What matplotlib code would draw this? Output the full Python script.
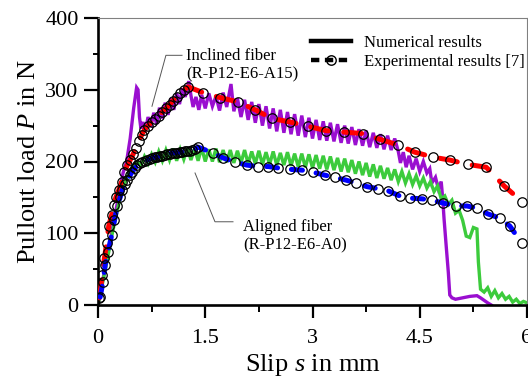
import matplotlib
matplotlib.use("Agg")
import matplotlib.pyplot as plt
from matplotlib.lines import Line2D
from matplotlib.ticker import MultipleLocator

# ---------------- data ----------------
# Numerical: inclined fiber (R-P12-E6-A15)
num_incl_s = [0, 0.1, 0.2, 0.3, 0.35, 0.4, 0.45, 0.5, 0.54, 0.56, 0.58, 0.6, 0.63, 0.66, 0.7, 0.74,
              0.78, 0.82, 0.86, 0.9, 0.94, 0.98, 1.02, 1.06, 1.1, 1.14, 1.18, 1.22, 1.27, 1.3, 1.33,
              1.37, 1.41, 1.45, 1.5, 1.55, 1.6, 1.65, 1.7, 1.75, 1.8, 1.86, 1.9, 1.95, 2.0, 2.05,
              2.1, 2.15, 2.2, 2.25, 2.3, 2.35, 2.4, 2.45, 2.5, 2.55, 2.6, 2.65, 2.7, 2.75, 2.8, 2.85,
              2.9, 2.95, 3.0, 3.05, 3.1, 3.15, 3.2, 3.25, 3.3, 3.35, 3.4, 3.45, 3.5, 3.55, 3.6, 3.65,
              3.7, 3.75, 3.8, 3.85, 3.9, 3.95, 4.0, 4.05, 4.1, 4.15, 4.2, 4.23, 4.27, 4.31, 4.35, 4.4,
              4.45, 4.5, 4.55, 4.6, 4.64, 4.67, 4.72, 4.76, 4.8, 4.82, 4.84, 4.87, 4.9, 4.92, 4.95,
              5.0, 5.1, 5.2, 5.3, 5.35, 5.45, 5.5]
num_incl_p = [0, 52, 105, 158, 184, 200, 232, 275, 303, 300, 262, 246, 255, 242, 262, 248,
              268, 252, 275, 260, 282, 265, 288, 272, 295, 280, 302, 290, 312, 292, 276,
              290, 272, 293, 274, 295, 277, 291, 271, 296, 276, 308, 270, 288, 262, 286,
              258, 283, 254, 280, 250, 277, 246, 274, 242, 272, 240, 269, 238, 266, 236, 264,
              234, 261, 232, 258, 230, 256, 229, 254, 228, 252, 226, 250, 225, 248, 223, 245,
              222, 243, 220, 240, 219, 238, 217, 236, 216, 232, 214, 198, 213, 192, 208, 189,
              204, 186, 200, 184, 190, 170, 178, 162, 172, 150, 120, 82, 45, 14, 10,
              8, 10, 12, 13, 10, 3, 0]

# Numerical: aligned fiber (R-P12-E6-A0)
num_align_s = [0, 0.1, 0.2, 0.3, 0.4, 0.5, 0.55, 0.6, 0.65, 0.7, 0.75, 0.8, 0.85, 0.9, 0.95, 1.0,
               1.05, 1.1, 1.15, 1.2, 1.25, 1.3, 1.35, 1.4, 1.45, 1.5, 1.55, 1.6, 1.65, 1.7, 1.75,
               1.8, 1.85, 1.9, 1.95, 2.0, 2.05, 2.1, 2.15, 2.2, 2.25, 2.3, 2.35, 2.4, 2.45, 2.5,
               2.55, 2.6, 2.65, 2.7, 2.75, 2.8, 2.85, 2.9, 2.95, 3.0, 3.05, 3.1, 3.15, 3.2, 3.25,
               3.3, 3.35, 3.4, 3.45, 3.5, 3.55, 3.6, 3.65, 3.7, 3.75, 3.8, 3.85, 3.9, 3.95, 4.0,
               4.05, 4.1, 4.15, 4.2, 4.25, 4.3, 4.35, 4.4, 4.45, 4.5, 4.55, 4.6, 4.65, 4.7, 4.75,
               4.8, 4.85, 4.9, 4.95, 5.0, 5.05, 5.1, 5.15, 5.2, 5.25, 5.3, 5.32, 5.35, 5.4, 5.45,
               5.5, 5.55, 5.6, 5.65, 5.7, 5.75, 5.8, 5.85, 5.9, 5.95, 6.0]
num_align_p = [0, 48, 100, 145, 178, 195, 200, 194, 207, 197, 210, 199, 214, 201, 216, 202,
               218, 201, 217, 203, 219, 202, 218, 201, 219, 200, 217, 200, 218, 199, 216,
               199, 216, 198, 215, 198, 216, 197, 214, 197, 215, 196, 213, 196, 214, 195,
               212, 195, 213, 194, 211, 193, 211, 192, 210, 191, 209, 190, 208, 189, 207,
               188, 205, 186, 204, 185, 202, 183, 200, 181, 198, 179, 196, 177, 194, 176,
               191, 174, 189, 172, 186, 170, 183, 168, 180, 166, 177, 163, 172, 158, 166,
               148, 152, 140, 146, 128, 132, 118, 96, 94, 108, 106, 60, 22, 18, 24,
               12, 20, 10, 16, 8, 12, 4, 8, 2, 5, 3]

# Experimental: inclined fiber
exp_incl_s = [0.02, 0.06, 0.09, 0.12, 0.15, 0.19, 0.22, 0.25, 0.29, 0.33, 0.37, 0.41, 0.45, 0.49,
              0.53, 0.57, 0.61, 0.65, 0.7, 0.75, 0.8, 0.85, 0.9, 0.95, 1.0, 1.05, 1.1, 1.15, 1.2,
              1.26, 1.47, 1.71, 1.96, 2.2, 2.43, 2.69, 2.94, 3.19, 3.44, 3.7, 3.94, 4.2, 4.43,
              4.69, 4.92, 5.17, 5.43, 5.68, 5.93]
exp_incl_p = [10, 42, 65, 86, 110, 125, 140, 150, 160, 172, 185, 195, 202, 210,
              219, 228, 237, 244, 250, 255, 259, 264, 269, 274, 279, 285, 290, 295, 300,
              304, 296, 289, 283, 272, 260, 255, 249, 243, 241, 239, 231, 223, 213,
              206, 202, 196, 192, 166, 144]

# Experimental: aligned fiber
exp_align_s = [0.03, 0.07, 0.1, 0.14, 0.19, 0.23, 0.27, 0.31, 0.34, 0.38, 0.41, 0.45, 0.48, 0.52,
               0.55, 0.59, 0.62, 0.66, 0.69, 0.73, 0.76, 0.8, 0.83, 0.87, 0.9, 0.94, 0.97, 1.0,
               1.03, 1.07, 1.1, 1.14, 1.17, 1.21, 1.24, 1.28, 1.31, 1.35, 1.4, 1.61, 1.75, 1.92,
               2.08, 2.24, 2.38, 2.52, 2.69, 2.85, 3.01, 3.17, 3.31, 3.47, 3.61, 3.76, 3.92,
               4.06, 4.22, 4.36, 4.53, 4.67, 4.83, 5.0, 5.16, 5.3, 5.45, 5.62, 5.76, 5.93]
exp_align_p = [11, 32, 56, 74, 97, 118, 138, 150, 160, 168, 174, 181, 186, 191,
               195, 198, 200, 201, 202, 204, 205, 206, 206, 207, 208, 209, 210, 211,
               212, 212, 212, 213, 213, 214, 215, 215, 216, 217, 220, 212, 205, 199,
               195, 193, 193, 191, 189, 188, 185, 181, 178, 174, 170, 165, 162,
               159, 152, 149, 148, 146, 142, 138, 138, 135, 127, 121, 110, 86]

x_ticks = [0, 1.5, 3, 4.5, 6]
x_tick_labels = ["0", "1.5", "3", "4.5", "6"]
y_ticks = [0, 100, 200, 300, 400]

# annotation geometry (label positions and leader lines)
incl_label_xy = (1.23, 334)
incl_leader_s = [1.175, 0.95, 0.755]
incl_leader_p = [348, 348, 277]
align_label_xy = (2.03, 96)
align_leader_s = [1.357, 1.636, 1.888]
align_leader_p = [184, 116, 116]

# ---------------- style ----------------
plt.rcParams['font.family'] = ['Liberation Serif', 'DejaVu Serif']
plt.rcParams['mathtext.fontset'] = 'custom'
plt.rcParams['mathtext.rm'] = 'Liberation Serif'
plt.rcParams['mathtext.it'] = 'Liberation Serif:italic'
plt.rcParams['lines.scale_dashes'] = False

PURPLE = '#9a0fd0'
GREEN = '#3ccb3c'
RED = '#ff0000'
BLUE = '#0000ff'

fig = plt.figure(figsize=(5.28, 3.83), dpi=100)
ax = fig.add_axes([98/528, 1-305/383, 429/528, 287/383])

ax.plot(num_incl_s, num_incl_p, color=PURPLE, lw=2.4, zorder=2, solid_joinstyle='miter')
ax.plot(num_align_s, num_align_p, color=GREEN, lw=2.4, zorder=2, solid_joinstyle='miter')

ax.plot(exp_incl_s, exp_incl_p, color=RED, lw=3.6, dashes=(13, 11), zorder=3,
        dash_capstyle='round')
ax.plot(exp_align_s, exp_align_p, color=BLUE, lw=3.6, dashes=(8, 10), zorder=3,
        dash_capstyle='round')
ax.plot(exp_incl_s, exp_incl_p, ls='none', marker='o', ms=6.8, mfc='none', mec='black',
        mew=0.9, zorder=4)
ax.plot(exp_align_s, exp_align_p, ls='none', marker='o', ms=6.8, mfc='none', mec='black',
        mew=0.9, zorder=4)

# annotations
ax.plot(incl_leader_s, incl_leader_p, color='#555555', lw=0.7, zorder=1)
ax.plot(align_leader_s, align_leader_p, color='#555555', lw=0.7, zorder=1)
ax.text(*incl_label_xy, "Inclined fiber\n(R-P12-E6-A15)", fontsize=12, ha='left', va='center',
        linespacing=1.15)
ax.text(*align_label_xy, "Aligned fiber\n(R-P12-E6-A0)", fontsize=12, ha='left', va='center',
        linespacing=1.15)

# legend
h_num = Line2D([], [], color='black', lw=3.2)
h_exp = Line2D([], [], color='black', lw=3.2, dashes=(6, 4), marker='o', ms=6.8,
               mfc='none', mec='black', mew=1.0)
leg = ax.legend([h_num, h_exp], ["Numerical results", "Experimental results [7]"],
                loc='upper left', bbox_to_anchor=(0.497, 0.94), frameon=False, fontsize=12,
                handlelength=2.4, handletextpad=0.75, labelspacing=0.18, borderpad=0,
                borderaxespad=0, numpoints=1)

ax.set_xlim(0, 6)
ax.set_ylim(0, 400)
ax.set_xticks(x_ticks)
ax.set_xticklabels(x_tick_labels)
ax.set_yticks(y_ticks)
ax.xaxis.set_minor_locator(MultipleLocator(0.75))
ax.yaxis.set_minor_locator(MultipleLocator(50))
ax.tick_params(axis='x', which='major', direction='out', length=9.5, width=1.6, labelsize=16, pad=8)
ax.tick_params(axis='x', which='minor', direction='out', length=5, width=1.4)
ax.tick_params(axis='y', which='major', direction='out', length=10, width=1.6, labelsize=16, pad=4)
ax.tick_params(axis='y', which='minor', direction='out', length=3.5, width=1.4)

for side in ['left', 'bottom']:
    ax.spines[side].set_linewidth(1.9)
    ax.spines[side].set_color('black')
for side in ['top', 'right']:
    ax.spines[side].set_linewidth(0.8)
    ax.spines[side].set_color('#808080')

ax.set_xlabel(r"Slip $\mathit{s}$ in mm", fontsize=19)
ax.set_ylabel(r"Pullout load $\mathit{P}$ in N", fontsize=19)
ax.xaxis.set_label_coords(0.5, -0.165)
ax.yaxis.set_label_coords(-0.135, 0.5)

fig.savefig("out.png", dpi=100)
